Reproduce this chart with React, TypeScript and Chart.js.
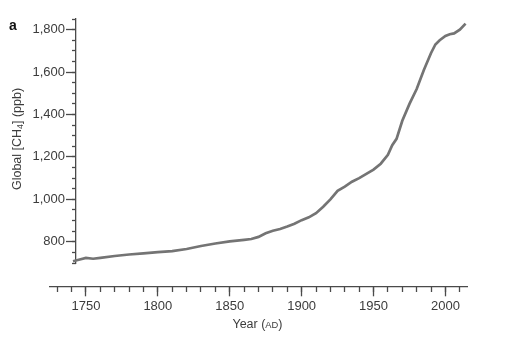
import React, { useEffect, useRef } from "react";
import { Chart, registerables } from "chart.js";

Chart.register(...registerables);

const years = [1741, 1745, 1750, 1755, 1760, 1770, 1780, 1790, 1800, 1810, 1820, 1830, 1840, 1850, 1860, 1865, 1870, 1875, 1880, 1885, 1890, 1895, 1900, 1905, 1910, 1915, 1920, 1925, 1930, 1935, 1940, 1945, 1950, 1955, 1960, 1963, 1966, 1970, 1975, 1980, 1985, 1990, 1993, 1996, 2000, 2003, 2006, 2010, 2014];
const ch4 = [708, 715, 724, 720, 724, 733, 740, 745, 751, 756, 766, 780, 792, 802, 809, 813, 823, 840, 852, 860, 872, 885, 902, 915, 935, 965, 1000, 1040, 1060, 1083, 1100, 1120, 1140, 1168, 1210, 1255, 1285, 1370, 1450, 1520, 1610, 1690, 1730, 1750, 1770, 1778, 1782, 1800, 1828];

const xMajorTicks = [1750, 1800, 1850, 1900, 1950, 2000];
const yMajorTicks = [800, 1000, 1200, 1400, 1600, 1800];

const X_MIN = 1725;
const X_MAX = 2015;
const Y_MIN = 700;
const Y_MAX = 1850;
const X_AXIS_AT = 588;
const Y_AXIS_AT = 1743;

const FONT = "'Liberation Sans', Arial, Helvetica, sans-serif";
const TEXT = "#3c3c3c";
const AXIS = "#4a4a4a";

const titlesPlugin = {
  id: "titlesPlugin",
  afterDraw(chart: any) {
    const ctx = chart.ctx;
    const ca = chart.chartArea;
    ctx.save();
    ctx.font = `bold 14px ${FONT}`;
    ctx.textAlign = "left";
    ctx.textBaseline = "alphabetic";
    ctx.fillStyle = "#111";
    ctx.fillText("a", 9, 30);
    ctx.fillStyle = TEXT;

    const parts1 = "Global [CH";
    const sub = "4";
    const parts2 = "] (ppb)";
    const fs = 12.5;
    ctx.font = `${fs}px ${FONT}`;
    const w1 = ctx.measureText(parts1).width;
    const w3 = ctx.measureText(parts2).width;
    ctx.font = `${fs * 0.7}px ${FONT}`;
    const w2 = ctx.measureText(sub).width;
    const total = w1 + w2 + w3;
    ctx.translate(ca.left - 32, (ca.top + ca.bottom) / 2 - 2);
    ctx.rotate(-Math.PI / 2);
    ctx.textBaseline = "middle";
    let x = -total / 2;
    ctx.font = `${fs}px ${FONT}`;
    ctx.fillText(parts1, x, 0);
    x += w1;
    ctx.font = `${fs * 0.7}px ${FONT}`;
    ctx.fillText(sub, x, 3);
    x += w2;
    ctx.font = `${fs}px ${FONT}`;
    ctx.fillText(parts2, x, 0);
    ctx.restore();

    ctx.save();
    ctx.fillStyle = TEXT;
    ctx.textBaseline = "middle";
    ctx.textAlign = "left";
    const a = "Year (";
    const b = "AD";
    const c = ")";
    ctx.font = `${fs}px ${FONT}`;
    const wa = ctx.measureText(a).width;
    const wc = ctx.measureText(c).width;
    ctx.font = `${fs * 0.75}px ${FONT}`;
    const wb = ctx.measureText(b).width;
    const xPix = chart.scales.y.getPixelForValue(X_AXIS_AT);
    let xx = (ca.left + ca.right) / 2 - (wa + wb + wc) / 2 - 1;
    const yy = xPix + 38;
    ctx.font = `${fs}px ${FONT}`;
    ctx.fillText(a, xx, yy);
    xx += wa;
    ctx.font = `${fs * 0.75}px ${FONT}`;
    ctx.fillText(b, xx, yy + 1);
    xx += wb;
    ctx.font = `${fs}px ${FONT}`;
    ctx.fillText(c, xx, yy);
    ctx.restore();
  },
};

export default function App() {
  const ref = useRef<HTMLCanvasElement | null>(null);
  useEffect(() => {
    if (!ref.current) return;
    const chart = new Chart(ref.current, {
      type: "line",
      data: {
        datasets: [
          {
            data: years.map((y, i) => ({ x: y, y: ch4[i] })),
            borderColor: "#747474",
            borderWidth: 2.7,
            pointRadius: 0,
            tension: 0,
            xAxisID: "x",
            yAxisID: "y",
          },
        ],
      },
      options: {
        animation: false,
        responsive: false,
        events: [],
        layout: { padding: { left: 50, right: 58, top: 19, bottom: 89 } },
        plugins: { legend: { display: false }, tooltip: { enabled: false } },
        scales: {
          x: {
            type: "linear",
            axis: "x",
            min: X_MIN,
            max: X_MAX,
            position: { y: X_AXIS_AT },
            afterBuildTicks: (s: any) => {
              s.ticks = xMajorTicks.map((v) => ({ value: v }));
            },
            ticks: {
              color: TEXT,
              font: { family: FONT, size: 13 },
              padding: 3,
              maxRotation: 0,
              callback: (v: any) => String(v),
            },
            grid: { drawOnChartArea: false, drawTicks: true, tickLength: 9, tickColor: AXIS, tickWidth: 1.3 },
            border: { display: true, color: AXIS, width: 1.3 },
          },
          x2: {
            type: "linear",
            axis: "x",
            min: X_MIN,
            max: X_MAX,
            position: { y: X_AXIS_AT },
            afterBuildTicks: (s: any) => {
              const t: any[] = [];
              for (let v = 1730; v <= 2010; v += 10) t.push({ value: v });
              s.ticks = t;
            },
            ticks: { display: false },
            grid: { drawOnChartArea: false, drawTicks: true, tickLength: 5, tickColor: AXIS, tickWidth: 1.3 },
            border: { display: false },
          },
          y: {
            type: "linear",
            axis: "y",
            min: Y_MIN,
            max: Y_MAX,
            position: { x: Y_AXIS_AT },
            afterBuildTicks: (s: any) => {
              s.ticks = yMajorTicks.map((v) => ({ value: v }));
            },
            ticks: {
              color: TEXT,
              font: { family: FONT, size: 13 },
              // labels of an axis placed at a data value are right-aligned on the axis line;
              // trailing spaces leave room for the tick marks
              callback: (v: any) => Number(v).toLocaleString("en-US") + "   ",
            },
            grid: { drawOnChartArea: false, drawTicks: true, tickLength: 9, tickColor: AXIS, tickWidth: 1.3 },
            border: { display: true, color: AXIS, width: 1.3 },
          },
          y2: {
            type: "linear",
            axis: "y",
            min: Y_MIN,
            max: Y_MAX,
            position: { x: Y_AXIS_AT },
            afterBuildTicks: (s: any) => {
              const t: any[] = [];
              for (let v = 700; v <= 1850; v += 50) t.push({ value: v });
              s.ticks = t;
            },
            ticks: { display: false },
            grid: { drawOnChartArea: false, drawTicks: true, tickLength: 4, tickColor: AXIS, tickWidth: 1.3 },
            border: { display: false },
          },
        },
      },
      plugins: [titlesPlugin],
    } as any);
    return () => chart.destroy();
  }, []);
  return (
    <div style={{ position: "fixed", left: 0, top: 0, width: 525, height: 352, background: "#fff" }}>
      <canvas ref={ref} width={525} height={352} style={{ width: 525, height: 352 }} />
    </div>
  );
}
